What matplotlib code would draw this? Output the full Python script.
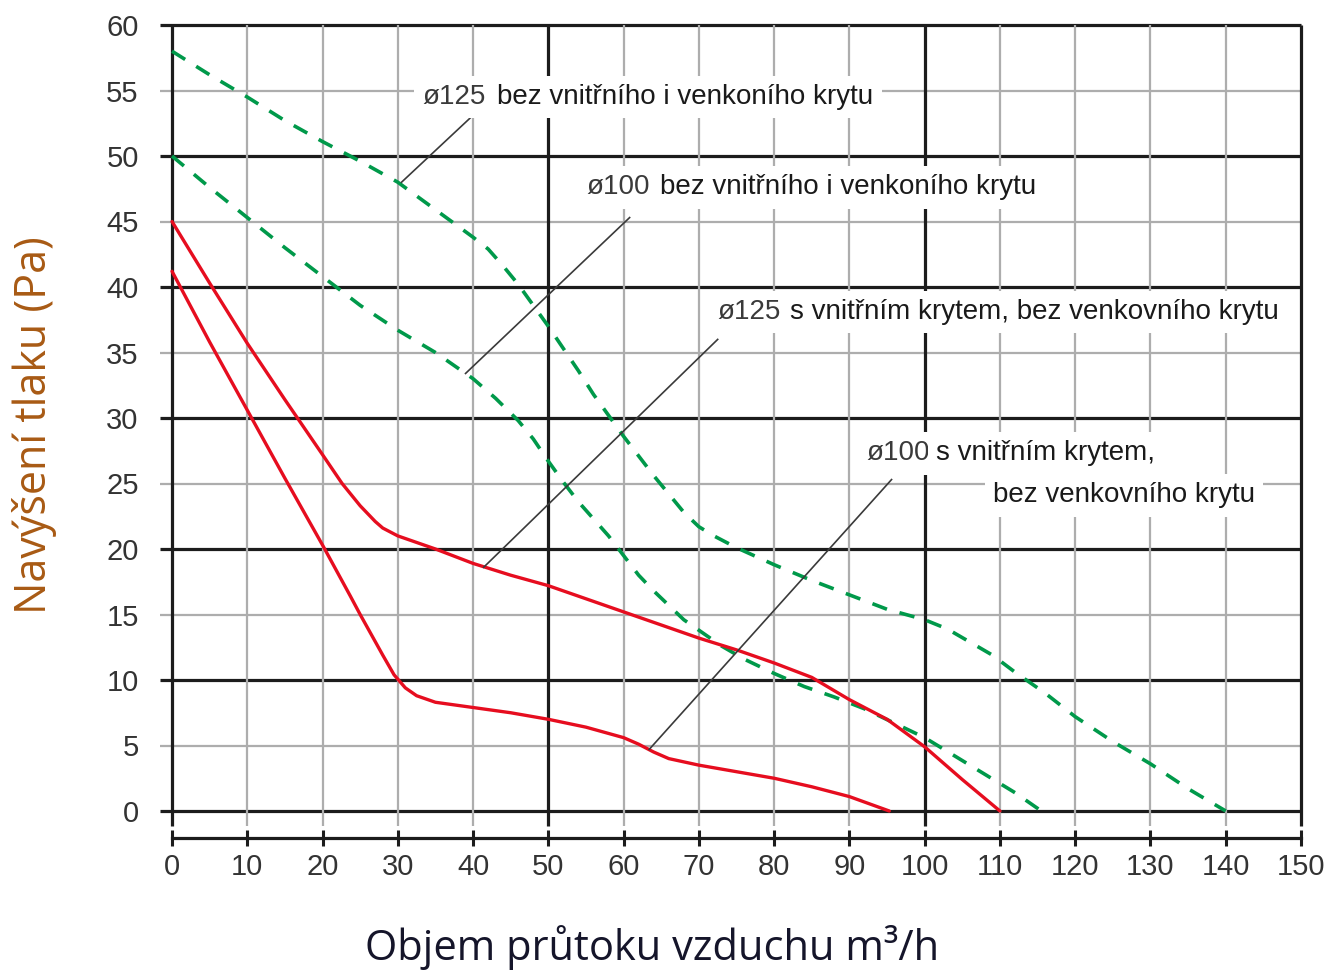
import matplotlib
matplotlib.use("Agg")
import matplotlib.pyplot as plt

plt.rcParams['font.family'] = ['Liberation Sans', 'DejaVu Sans']

# Fan curves: air flow (m3/h) against pressure rise (Pa)
flow_d125_open = [0, 5, 10, 15, 20, 25, 30, 35, 40, 42, 44, 46, 48, 50, 52, 54, 56, 58, 60,
                  62, 64, 66, 68, 70, 72, 75, 80, 85, 90, 95, 100, 103, 106, 109, 112,
                  116, 120, 125, 130, 135, 140]
press_d125_open = [58.0, 56.2, 54.5, 52.7, 51.1, 49.6, 48.0, 45.9, 43.8, 42.9, 41.6, 40.2,
                   38.6, 37.0, 35.3, 33.6, 31.8, 30.2, 28.6, 27.1, 25.6, 24.2, 22.8, 21.7,
                   21.0, 20.1, 18.8, 17.6, 16.5, 15.4, 14.6, 13.9, 12.9, 11.9, 10.6, 9.0,
                   7.2, 5.3, 3.6, 1.7, 0.0]

flow_d100_open = [0, 5, 10, 15, 20, 25, 30, 35, 40, 43, 46, 48, 50, 52, 54, 56, 58, 60, 62,
                  64, 66, 68, 70, 73, 76, 80, 84, 88, 92, 96, 100, 104, 108, 112, 115.5]
press_d100_open = [50.0, 47.6, 45.3, 43.0, 40.8, 38.6, 36.7, 35.0, 33.0, 31.5, 29.8, 28.4,
                   26.7, 25.1, 23.6, 22.3, 21.0, 19.5, 18.0, 16.8, 15.7, 14.6, 13.8, 12.6,
                   11.6, 10.5, 9.5, 8.7, 7.8, 6.7, 5.6, 4.2, 2.8, 1.4, 0.0]

flow_d125_inner = [0, 5, 10, 15, 20, 22.6, 25, 27, 28, 29, 30, 32, 35, 40, 45, 50, 55, 60,
                   65, 70, 75, 80, 85, 90, 95, 100, 105, 110]
press_d125_inner = [45.0, 40.3, 35.7, 31.4, 27.2, 25.0, 23.3, 22.1, 21.6, 21.3, 21.0, 20.6,
                    20.0, 18.9, 18.0, 17.2, 16.2, 15.2, 14.2, 13.2, 12.3, 11.3, 10.2, 8.5,
                    7.0, 4.9, 2.4, 0.0]

flow_d100_inner = [0, 5, 10, 15, 20, 23.7, 25, 28, 29.5, 31, 32.5, 35, 40, 45, 50, 55, 60,
                   62, 64, 66, 70, 75, 80, 85, 90, 95.3]
press_d100_inner = [41.2, 35.8, 30.6, 25.4, 20.3, 16.4, 15.0, 11.9, 10.4, 9.4, 8.8, 8.3,
                    7.9, 7.5, 7.0, 6.4, 5.6, 5.1, 4.5, 4.0, 3.5, 3.0, 2.5, 1.85, 1.1, 0.0]

# Callouts: leader start on the curve, leader end, label anchors
callout_numbers = ["ø125", "ø100", "ø125", "ø100"]
callout_texts = ["bez vnitřního i venkoního krytu",
                 "bez vnitřního i venkoního krytu",
                 "s vnitřním krytem, bez venkovního krytu",
                 "s vnitřním krytem,"]
callout_extra = "bez venkovního krytu"
leader_start = [(30.5, 48.0), (39.0, 33.4), (41.4, 18.6), (63.4, 4.7)]
leader_end = [(39.8, 53.0), (60.8, 45.3), (72.5, 36.0), (95.6, 25.3)]
number_pos = [(33.2, 54.5), (55.1, 47.6), (72.4, 38.1), (92.3, 27.3)]
text_x = [43.2, 64.8, 82.1, 101.5]
extra_pos = (109.1, 24.1)

x_ticks = list(range(0, 151, 10))
y_ticks = list(range(0, 61, 5))

W, H = 1330, 973
fig = plt.figure(figsize=(W / 100, H / 100), dpi=100)
x0, x1, y_top, y_bot = 172, 1301, 25, 811
ax = fig.add_axes([x0 / W, 1 - y_bot / H, (x1 - x0) / W, (y_bot - y_top) / H])
ax.set_xlim(0, 150)
ax.set_ylim(0, 60)
for s in ax.spines.values():
    s.set_visible(False)

BLACK = '#1c1c1c'
GRAY = '#adadad'

# grid: heavy lines every 10 Pa / 50 m3/h, light ones in between
for y in y_ticks:
    major = y % 10 == 0
    ax.hlines(y, -1.6, 150, colors=BLACK if major else GRAY,
              lw=2.3 if major else 1.6, clip_on=False, zorder=1)
for x in x_ticks:
    major = x % 50 == 0
    ax.vlines(x, -1.15, 60, colors=BLACK if major else GRAY,
              lw=2.3 if major else 1.6, clip_on=False, zorder=1)

ax.set_xticks([])
ax.set_yticks(y_ticks)
ax.set_yticklabels([str(v) for v in y_ticks])
ax.tick_params(axis='y', length=0, pad=24, labelsize=21, labelcolor='#333333')

# separate scale bar under the plot
sec = ax.secondary_xaxis(-27 / 786)
sec.set_xticks(x_ticks)
sec.set_xticklabels([str(v) for v in x_ticks])
sec.tick_params(direction='inout', length=12, width=2.2, color=BLACK,
                labelsize=21, labelcolor='#333333', pad=5)
sec.spines['bottom'].set_linewidth(2.3)
sec.spines['bottom'].set_color(BLACK)

RED = '#e60d1f'
GREEN = '#00994a'
dash = (0, (4.3, 3.6))
ax.plot(flow_d125_open, press_d125_open, color=GREEN, lw=2.6, ls=dash, zorder=3, clip_on=False)
ax.plot(flow_d100_open, press_d100_open, color=GREEN, lw=2.6, ls=dash, zorder=3, clip_on=False)
ax.plot(flow_d125_inner, press_d125_inner, color=RED, lw=2.4, zorder=3,
        solid_capstyle='round', solid_joinstyle='round', clip_on=False)
ax.plot(flow_d100_inner, press_d100_inner, color=RED, lw=2.4, zorder=3,
        solid_capstyle='round', solid_joinstyle='round', clip_on=False)

box = dict(boxstyle='square,pad=0.3', fc='white', ec='none')
for (sx, sy), (ex, ey) in zip(leader_start, leader_end):
    ax.plot([sx, ex], [sy, ey], color='#3a3a3a', lw=1.2, zorder=4)
for num, txt, (nx, ny), tx in zip(callout_numbers, callout_texts, number_pos, text_x):
    ax.text(nx, ny, num, fontsize=20, color='#3a3a3a', ha='left', va='center',
            bbox=box, zorder=5, clip_on=False)
    ax.text(tx, ny, txt, fontsize=20, color='#1a1a1a', ha='left', va='center',
            bbox=box, zorder=5, clip_on=False)
ax.text(extra_pos[0], extra_pos[1], callout_extra, fontsize=20, color='#1a1a1a',
        ha='left', va='center', bbox=box, zorder=5, clip_on=False)

fig.text(35 / W, 1 - 425 / H, "Navýšení tlaku (Pa)", rotation=90, ha='center',
         va='center', fontsize=31, color='#a85a14', family=['Open Sans', 'DejaVu Sans'])
fig.text(652 / W, 1 - 948 / H, "Objem průtoku vzduchu m³/h", ha='center', va='center',
         fontsize=30, color='#15152a', family=['Open Sans', 'DejaVu Sans'])

fig.savefig("out.png", dpi=100, facecolor='white')
